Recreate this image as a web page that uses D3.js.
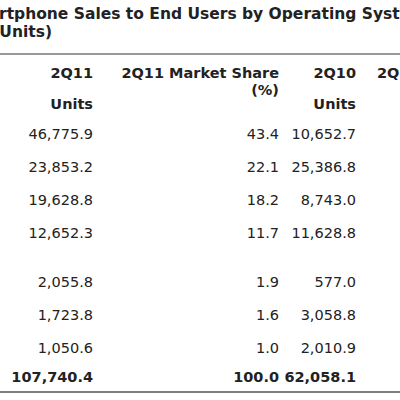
<!DOCTYPE html>
<html><head><meta charset="utf-8">
<script src="https://cdn.jsdelivr.net/npm/d3@7"></script>
<style>body{margin:0;background:#fff}svg{display:block}</style>
</head><body><svg id="c" width="400" height="400"></svg>
<script>
const units2Q11 = ["46,775.9","23,853.2","19,628.8","12,652.3","2,055.8","1,723.8","1,050.6","107,740.4"];
const share2Q11 = ["43.4","22.1","18.2","11.7","1.9","1.6","1.0","100.0"];
const units2Q10 = ["10,652.7","25,386.8","8,743.0","11,628.8","577.0","3,058.8","2,010.9","62,058.1"];
const rowSlots = [0,1,2,3,4.48,5.48,6.48,7.36];
const columns = ["2Q11 Units","2Q11 Market Share","2Q10 Units"];

const svg = d3.select("#c");
const F = "'DejaVu Sans', Verdana, sans-serif";
const y = d3.scaleLinear().domain([0,1]).range([139,172]);
const x = d3.scaleOrdinal().domain(columns).range([93,279,356]);
const TS = 15.5;

const t1 = svg.append("text").attr("y",19).attr("font-family",F).attr("font-weight","bold").attr("font-size",TS).attr("fill","#222");
t1.append("tspan").attr("x",0).attr("text-anchor","end").text("Worldwide Sma");
svg.append("text").attr("x",-1).attr("y",19).attr("font-family",F).attr("font-weight","bold").attr("font-size",TS).attr("fill","#222")
  .text("rtphone Sales to End Users by Operating System, 2Q11");
svg.append("text").attr("x",52).attr("y",37).attr("text-anchor","end").attr("font-family",F).attr("font-weight","bold").attr("font-size",TS).attr("fill","#222")
  .text("(Thousands of Units)");
svg.append("line").attr("x1",0).attr("x2",400).attr("y1",54).attr("y2",54).attr("stroke","#777").attr("stroke-width",1.5);

const BS = 14.5;
const hdr = (t,xx,yy,anchor)=>svg.append("text").attr("x",xx).attr("y",yy).attr("text-anchor",anchor||"end")
  .attr("font-family",F).attr("font-weight","bold").attr("font-size",BS).attr("fill","#222").text(t);
hdr("2Q11",x("2Q11 Units"),78); hdr("Units",x("2Q11 Units"),109);
hdr("2Q11 Market Share",x("2Q11 Market Share"),78); hdr("(%)",x("2Q11 Market Share"),95);
hdr("2Q10",x("2Q10 Units"),78); hdr("Units",x("2Q10 Units"),109);
hdr("2Q10 Market Share",377,78,"start");

const cols = [units2Q11, share2Q11, units2Q10];
cols.forEach((vals,ci)=>{
  svg.selectAll(null).data(vals).join("text")
    .attr("x",x(columns[ci])).attr("y",(d,i)=>y(rowSlots[i]))
    .attr("text-anchor","end").attr("font-family",F).attr("font-size",BS).attr("fill","#222")
    .attr("font-weight",(d,i)=>i===vals.length-1?"bold":"normal").text(d=>d);
});
svg.append("line").attr("x1",0).attr("x2",400).attr("y1",392).attr("y2",392).attr("stroke","#555").attr("stroke-width",1.5);
</script></body></html>
